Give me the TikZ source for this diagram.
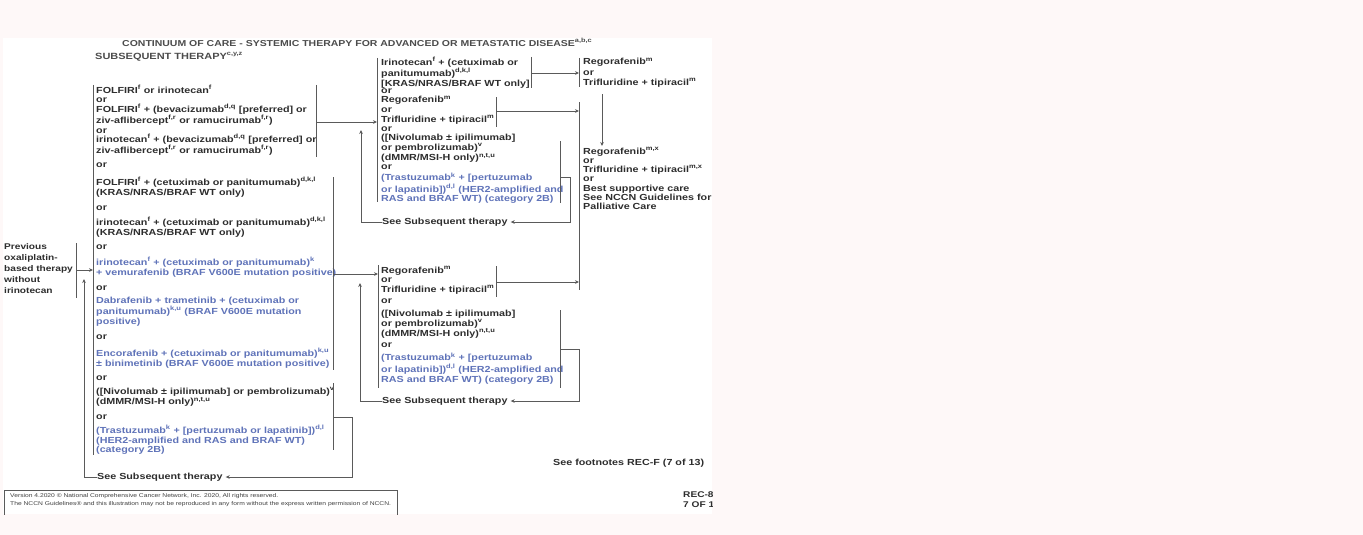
\documentclass[tikz,border=0pt]{standalone}
\usepackage{fontspec}
\setmainfont{Liberation Sans}[FakeStretch=1.22]
\usetikzlibrary{arrows.meta,positioning}
\definecolor{pagepink}{RGB}{254,248,248}
\definecolor{inkgray}{RGB}{45,45,45}
\definecolor{rulegray}{RGB}{90,90,90}
\definecolor{newblue}{RGB}{95,115,185}
\tikzset{
  txt/.style={anchor=north west, inner sep=0pt, align=left, text=inkgray,
    font=\bfseries\fontsize{8.8}{9.6}\selectfont},
  bluetxt/.style={txt, text=newblue},
  ortxt/.style={txt, anchor=west},
  brk/.style={draw=rulegray, line width=0.7pt},
  arr/.style={brk, -{Stealth[length=4pt,width=3.6pt]}},
}
\newcommand{\sps}[1]{\textsuperscript{#1}}

\begin{document}
\begin{tikzpicture}[x=1pt,y=-1pt]
			%%%%% PAGE %%%%%
			\useasboundingbox (0,0) rectangle (1363,535);
			\fill[pagepink] (0,0) rectangle (1363,535);
			\fill[white] (3,38) rectangle (712,514);
			\begin{scope}
			\clip (3,38) rectangle (712,514);

			\node[txt, text=black!70, font=\bfseries\fontsize{8.6}{8}\selectfont] (title) at (122,38)
				{CONTINUUM OF CARE - SYSTEMIC THERAPY FOR ADVANCED OR METASTATIC DISEASE\sps{a,b,c}};
			\node[txt, text=black!70, font=\bfseries\fontsize{9}{8}\selectfont] (subtitle) at (95,52)
				{SUBSEQUENT THERAPY\sps{c,y,z}};

			%%%%% START %%%%%
			\node[txt, font=\bfseries\fontsize{8.3}{11}\selectfont] (prev) at (4,243)
				{Previous\\oxaliplatin-\\based therapy\\without\\irinotecan};
			\draw[brk] (76,243) coordinate (pbT) -- (76,298) coordinate (pbB);
			\coordinate (pbM) at (76,270);

			%%%%% LEFT COLUMN %%%%%
			\draw[brk] (93,85) coordinate (lcT) -- (93,455) coordinate (lcB);
			\draw[arr] (pbM) -- (lcT |- pbM);

			\node[txt, font=\bfseries\fontsize{8.8}{9.5}\selectfont] (folfiri) at (96,85)
				{FOLFIRI\sps{f} or irinotecan\sps{f}\\or\\
				FOLFIRI\sps{f} + (bevacizumab\sps{d,q} {[}preferred] or\\
				ziv-aflibercept\sps{f,r} or ramucirumab\sps{f,r})\\or\\
				irinotecan\sps{f} + (bevacizumab\sps{d,q} {[}preferred] or\\
				ziv-aflibercept\sps{f,r} or ramucirumab\sps{f,r})};
			\node[txt] (folfiriCetux) at (96,177)
				{FOLFIRI\sps{f} + (cetuximab or panitumumab)\sps{d,k,l}\\(KRAS/NRAS/BRAF WT only)};
			\node[txt] (iriCetux) at (96,217)
				{irinotecan\sps{f} + (cetuximab or panitumumab)\sps{d,k,l}\\(KRAS/NRAS/BRAF WT only)};
			\node[bluetxt] (iriVemu) at (96,257)
				{irinotecan\sps{f} + (cetuximab or panitumumab)\sps{k}\\+ vemurafenib (BRAF V600E mutation positive)};
			\node[bluetxt] (dabraf) at (96,297)
				{Dabrafenib + trametinib + (cetuximab or\\panitumumab)\sps{k,u} (BRAF V600E mutation\\positive)};
			\node[bluetxt] (encoraf) at (96,348)
				{Encorafenib + (cetuximab or panitumumab)\sps{k,u}\\± binimetinib (BRAF V600E mutation positive)};
			\node[txt] (nivoL) at (96,387)
				{({[}Nivolumab ± ipilimumab] or pembrolizumab)\sps{v}\\(dMMR/MSI-H only)\sps{n,t,u}};
			\node[bluetxt] (trastL) at (96,425)
				{(Trastuzumab\sps{k} + {[}pertuzumab or lapatinib])\sps{d,l}\\(HER2-amplified and RAS and BRAF WT)\\(category 2B)};
			\foreach \y/\n in {165/1,208/2,247/3,288/4,337/5,378/6,417/7}
				\node[ortxt] (orL\n) at (96,\y) {or};
			\node[ortxt] (seeL) at (97,477) {See Subsequent therapy};

			\draw[brk] (316,85) coordinate (rc1T) -- (316,157) coordinate (rc1B);
			\draw[brk] (333,177) coordinate (rc2T) -- (333,370) coordinate (rc2B);
			\draw[brk] (333,383) coordinate (rc3T) -- (333,450) coordinate (rc3B);
			\coordinate (rc1M) at (316,122);
			\coordinate (rc2M) at (333,274);
			\coordinate (rc3M) at (333,417);
			\coordinate (upL) at (84,279);
			\draw[arr, shorten >=3pt] (rc3M) -- (352,417) |- (seeL.east);
			\draw[arr] (seeL.west) -| (upL);

			%%%%% MIDDLE TOP %%%%%
			\draw[brk] (377,58) coordinate (mtT) -- (377,202) coordinate (mtB);
			\draw[arr] (rc1M) -- (mtT |- rc1M);
			\node[txt] (iriCetuxM) at (381,57)
				{Irinotecan\sps{f} + (cetuximab or\\panitumumab)\sps{d,k,l}\\{[}KRAS/NRAS/BRAF WT only]};
			\node[txt] (regoM1) at (381,95.5)
				{Regorafenib\sps{m}\\or\\Trifluridine + tipiracil\sps{m}};
			\node[txt] (nivoM1) at (381,134)
				{({[}Nivolumab ± ipilimumab]\\or pembrolizumab)\sps{v}\\(dMMR/MSI-H only)\sps{n,t,u}};
			\node[bluetxt] (trastM1) at (381,172.5)
				{(Trastuzumab\sps{k} + {[}pertuzumab\\or lapatinib])\sps{d,l} (HER2-amplified and\\RAS and BRAF WT) (category 2B)};
			\foreach \y/\n in {90.8/1,129.2/2,167.6/3}
				\node[ortxt] (orM\n) at (381,\y) {or};
			\node[ortxt] (seeM1) at (382,222) {See Subsequent therapy};
			\coordinate (upM1) at (361,130);
			\draw[arr] (seeM1.west) -| (upM1);

			\draw[brk] (531,57) coordinate (maT) -- (531,88) coordinate (maB);
			\draw[brk] (496,97) coordinate (mbT) -- (496,127) coordinate (mbB);
			\draw[brk] (560,141) coordinate (mcT) -- (560,203) coordinate (mcB);
			\draw[arr, shorten >=3pt] (560,177) -- (570,177) |- (seeM1.east);

			%%%%% RIGHT %%%%%
			\draw[brk] (579,58) coordinate (raT) -- (579,87) coordinate (raB);
			\node[txt, font=\bfseries\fontsize{8.8}{10.3}\selectfont] (regoR1) at (583,57.5)
				{Regorafenib\sps{m}\\or\\Trifluridine + tipiracil\sps{m}};
			\draw[arr] (531,73) -- (raT |- 531,73);
			\draw[brk] (579,102) coordinate (rbT) -- (579,290) coordinate (rbB);
			\node[txt, font=\bfseries\fontsize{8.8}{9.2}\selectfont] (regoR2) at (583,147)
				{Regorafenib\sps{m,x}\\or\\Trifluridine + tipiracil\sps{m,x}\\or\\Best supportive care\\See NCCN Guidelines for\\Palliative Care};
			\draw[arr] (496,111) -- (rbT |- 496,111);
			\draw[arr] (602,94) -- (602,146);

			%%%%% MIDDLE BOTTOM %%%%%
			\draw[brk] (378,265) coordinate (mdT) -- (378,388) coordinate (mdB);
			\draw[arr] (rc2M) -- (mdT |- rc2M);
			\node[txt] (regoM2) at (381,266)
				{Regorafenib\sps{m}\\or\\Trifluridine + tipiracil\sps{m}};
			\node[txt, font=\bfseries\fontsize{8.8}{10}\selectfont] (nivoM2) at (381,309.5)
				{({[}Nivolumab ± ipilimumab]\\or pembrolizumab)\sps{v}\\(dMMR/MSI-H only)\sps{n,t,u}};
			\node[bluetxt, font=\bfseries\fontsize{8.8}{10}\selectfont] (trastM2) at (381,352.5)
				{(Trastuzumab\sps{k} + {[}pertuzumab\\or lapatinib])\sps{d,l} (HER2-amplified and\\RAS and BRAF WT) (category 2B)};
			\foreach \y/\n in {301/4,345/5}
				\node[ortxt] (orM\n) at (381,\y) {or};
			\node[ortxt] (seeM2) at (382,401) {See Subsequent therapy};
			\coordinate (upM2) at (360,283);
			\draw[arr] (seeM2.west) -| (upM2);

			\draw[brk] (496,266) coordinate (meT) -- (496,297) coordinate (meB);
			\draw[arr] (496,282) -- (rbT |- 496,282);
			\draw[brk] (560,310) coordinate (mfT) -- (560,388) coordinate (mfB);
			\draw[arr, shorten >=3pt] (560,349) -- (579,349) |- (seeM2.east);

			%%%%% FOOT %%%%%
			\node[ortxt] (footnotes) at (553,463) {See footnotes REC-F (7 of 13)};
			\node[txt, font=\bfseries\fontsize{8.3}{10.5}\selectfont] (pageno) at (683,491) {REC-8\\7 OF 13};
			\draw[rulegray, line width=0.5pt] (4,490) rectangle (397,530);
			\node[txt, text=black!75, font=\fontsize{5.5}{8}\selectfont] (legal) at (10,493)
				{Version 4.2020 © National Comprehensive Cancer Network, Inc. 2020, All rights reserved.\\
				The NCCN Guidelines® and this illustration may not be reproduced in any form without the express written permission of NCCN.};
			\end{scope}
			%%%%% END %%%%%
\end{tikzpicture}
\end{document}
